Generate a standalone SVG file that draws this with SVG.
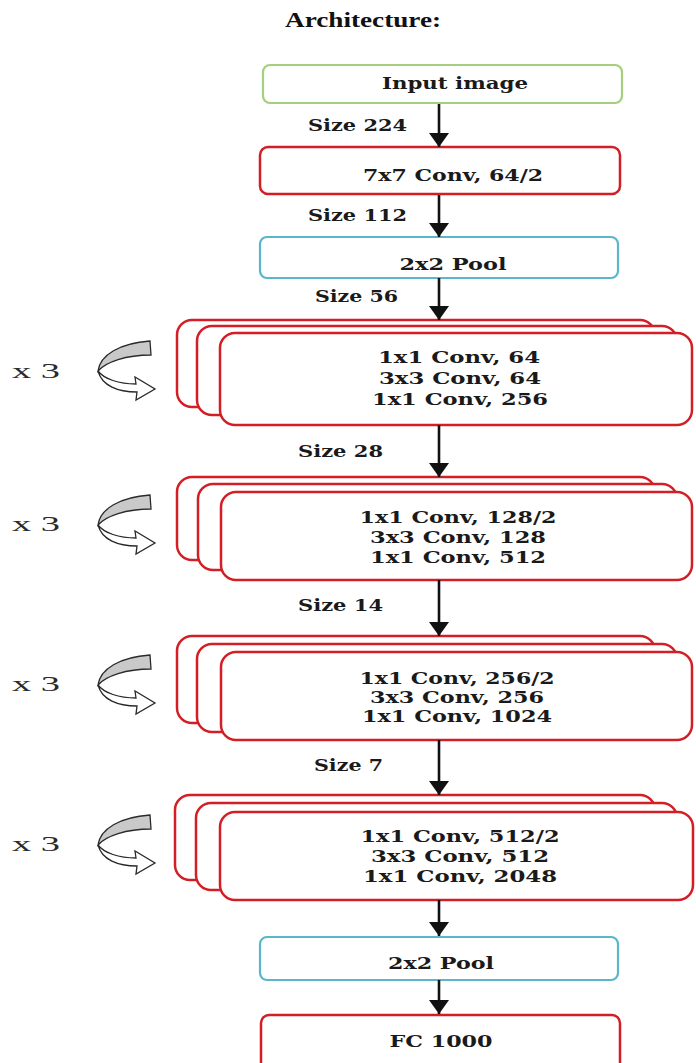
<svg xmlns="http://www.w3.org/2000/svg" width="696" height="1063" viewBox="0 0 696 1063">
<style>
.t{font-family:"DejaVu Serif","Liberation Serif",serif;font-weight:bold;font-size:16px;fill:#1a1a1a;text-anchor:middle}
.s{font-family:"DejaVu Serif","Liberation Serif",serif;font-weight:bold;font-size:16px;fill:#1a1a1a}
.x{font-family:"Liberation Serif",serif;font-size:22px;fill:#2a2a2a}
.ttl{font-family:"Liberation Serif",serif;font-weight:bold;font-size:20px;fill:#111;text-anchor:middle}
.red{fill:#fff;stroke:#d21f26;stroke-width:2.5}
.grn{fill:#fff;stroke:#a3cf7f;stroke-width:2.2}
.blu{fill:#fff;stroke:#5bb6cc;stroke-width:2.2}
.conn line{stroke:#111;stroke-width:2.6}
.ic1{fill:#c9c9c9;stroke:#2a2a2a;stroke-width:1.3}
.ic2{fill:#fff;stroke:#2a2a2a;stroke-width:1.3}
</style>
<defs>
<marker id="ah" markerUnits="userSpaceOnUse" viewBox="0 0 14 20" refX="14" refY="10" markerWidth="14" markerHeight="20" orient="auto">
<path d="M0,0 L14,10 L0,20 z" fill="#111"/>
</marker>
<g id="loop">
<path class="ic2" d="M98,371 C102,386 118,392 137,392 L136,400 L155,389 L135,377 L136,384 C119,384 104,379 98,371 Z"/>
<path class="ic1" d="M150,341 L151,355 C126,355 106,362 98,371 C100,355 120,343 150,341 Z"/>
</g>
</defs>

<text class="ttl" x="363" y="27" textLength="156" lengthAdjust="spacingAndGlyphs">Architecture:</text>

<g id="input">
<rect class="grn" x="263" y="65" width="359" height="38" rx="7"/>
<text class="t" x="455" y="89" textLength="146" lengthAdjust="spacingAndGlyphs">Input image</text>
</g>
<g id="conv7">
<rect class="red" x="260" y="147" width="360" height="47" rx="8"/>
<text class="t" x="453" y="181" textLength="180" lengthAdjust="spacingAndGlyphs">7x7 Conv, 64/2</text>
</g>
<g id="pool1">
<rect class="blu" x="260" y="237" width="358" height="41" rx="7"/>
<text class="t" x="453" y="270" textLength="107" lengthAdjust="spacingAndGlyphs">2x2 Pool</text>
</g>

<g id="block1">
<text class="x" x="12" y="378" textLength="48" lengthAdjust="spacingAndGlyphs">x 3</text>
<use href="#loop"/>
<rect class="red" x="177" y="320" width="478" height="87" rx="15"/>
<rect class="red" x="197" y="326" width="480" height="89" rx="15"/>
<rect class="red" x="220" y="333" width="472" height="92" rx="15"/>
<text class="t" x="459" y="363" textLength="162" lengthAdjust="spacingAndGlyphs">1x1 Conv, 64</text>
<text class="t" x="460" y="384" textLength="162" lengthAdjust="spacingAndGlyphs">3x3 Conv, 64</text>
<text class="t" x="460" y="405" textLength="176" lengthAdjust="spacingAndGlyphs">1x1 Conv, 256</text>
</g>

<g id="block2">
<text class="x" x="12" y="531" textLength="48" lengthAdjust="spacingAndGlyphs">x 3</text>
<use href="#loop" transform="translate(0,154)"/>
<rect class="red" x="177" y="477" width="478" height="83" rx="15"/>
<rect class="red" x="198" y="484" width="479" height="86" rx="15"/>
<rect class="red" x="221" y="492" width="471" height="88" rx="15"/>
<text class="t" x="458" y="523" textLength="197" lengthAdjust="spacingAndGlyphs">1x1 Conv, 128/2</text>
<text class="t" x="458" y="543" textLength="176" lengthAdjust="spacingAndGlyphs">3x3 Conv, 128</text>
<text class="t" x="458" y="563" textLength="176" lengthAdjust="spacingAndGlyphs">1x1 Conv, 512</text>
</g>

<g id="block3">
<text class="x" x="12" y="691" textLength="48" lengthAdjust="spacingAndGlyphs">x 3</text>
<use href="#loop" transform="translate(0,314)"/>
<rect class="red" x="177" y="636" width="478" height="87" rx="15"/>
<rect class="red" x="197" y="644" width="480" height="88" rx="15"/>
<rect class="red" x="221" y="652" width="471" height="88" rx="15"/>
<text class="t" x="457" y="684" textLength="195" lengthAdjust="spacingAndGlyphs">1x1 Conv, 256/2</text>
<text class="t" x="457" y="703" textLength="174" lengthAdjust="spacingAndGlyphs">3x3 Conv, 256</text>
<text class="t" x="457" y="722" textLength="190" lengthAdjust="spacingAndGlyphs">1x1 Conv, 1024</text>
</g>

<g id="block4">
<text class="x" x="12" y="851" textLength="48" lengthAdjust="spacingAndGlyphs">x 3</text>
<use href="#loop" transform="translate(0,474)"/>
<rect class="red" x="175" y="795" width="480" height="85" rx="15"/>
<rect class="red" x="196" y="803" width="481" height="87" rx="15"/>
<rect class="red" x="220" y="812" width="473" height="88" rx="15"/>
<text class="t" x="460" y="842" textLength="199" lengthAdjust="spacingAndGlyphs">1x1 Conv, 512/2</text>
<text class="t" x="460" y="862" textLength="178" lengthAdjust="spacingAndGlyphs">3x3 Conv, 512</text>
<text class="t" x="460" y="882" textLength="194" lengthAdjust="spacingAndGlyphs">1x1 Conv, 2048</text>
</g>

<g id="pool2">
<rect class="blu" x="260" y="937" width="358" height="43" rx="7"/>
<text class="t" x="441" y="969" textLength="106" lengthAdjust="spacingAndGlyphs">2x2 Pool</text>
</g>
<g id="fc">
<rect class="red" x="261" y="1015" width="359" height="60" rx="8"/>
<text class="t" x="441" y="1047" textLength="103" lengthAdjust="spacingAndGlyphs">FC 1000</text>
</g>

<g id="connectors" class="conn">
<line x1="439" y1="104" x2="439" y2="147" marker-end="url(#ah)"/>
<line x1="439" y1="195" x2="439" y2="237" marker-end="url(#ah)"/>
<line x1="439" y1="278" x2="439" y2="320" marker-end="url(#ah)"/>
<line x1="439" y1="425" x2="439" y2="477" marker-end="url(#ah)"/>
<line x1="439" y1="580" x2="439" y2="636" marker-end="url(#ah)"/>
<line x1="439" y1="740" x2="439" y2="795" marker-end="url(#ah)"/>
<line x1="439" y1="900" x2="439" y2="936" marker-end="url(#ah)"/>
<line x1="439" y1="980" x2="439" y2="1014" marker-end="url(#ah)"/>
</g>

<g id="sizes">
<text class="s" x="308" y="131" textLength="99" lengthAdjust="spacingAndGlyphs">Size 224</text>
<text class="s" x="308" y="221" textLength="99" lengthAdjust="spacingAndGlyphs">Size 112</text>
<text class="s" x="315" y="302" textLength="83" lengthAdjust="spacingAndGlyphs">Size 56</text>
<text class="s" x="298" y="457" textLength="85" lengthAdjust="spacingAndGlyphs">Size 28</text>
<text class="s" x="298" y="611" textLength="85" lengthAdjust="spacingAndGlyphs">Size 14</text>
<text class="s" x="314" y="771" textLength="69" lengthAdjust="spacingAndGlyphs">Size 7</text>
</g>
</svg>
